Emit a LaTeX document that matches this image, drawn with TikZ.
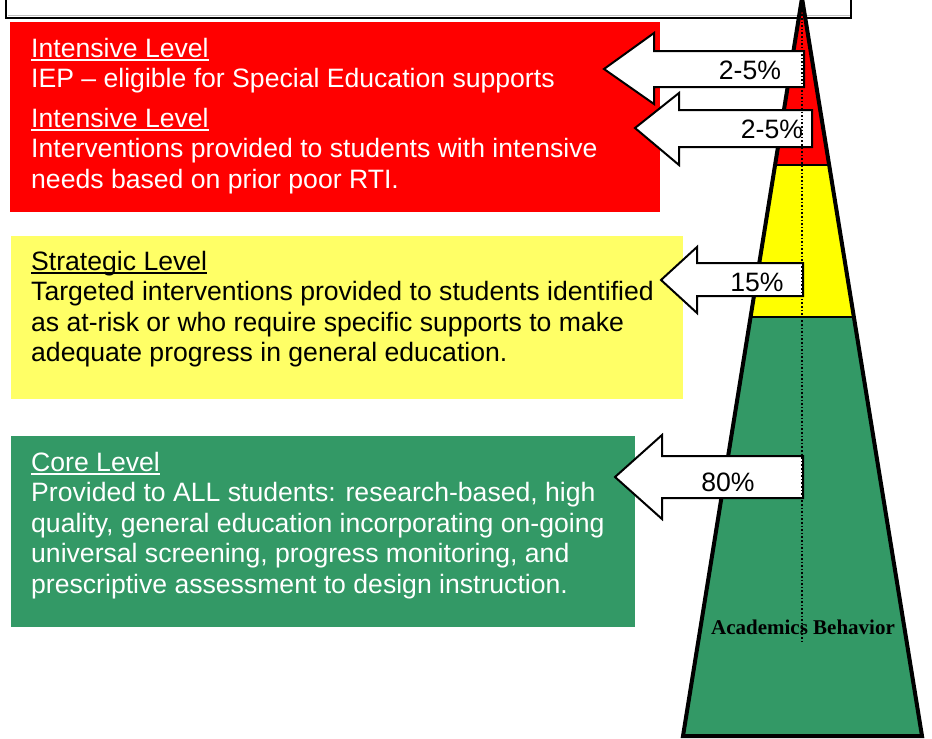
\documentclass[tikz,border=0pt]{standalone}
\usepackage{fontspec}
\setmainfont{Liberation Sans}
\newfontfamily\tnrfont{Liberation Serif}
\definecolor{tierred}{HTML}{FF0000}
\definecolor{tieryellowbox}{HTML}{FFFF66}
\definecolor{tieryellow}{HTML}{FFFF00}
\definecolor{tiergreen}{HTML}{339966}
\newcommand\ulc[1]{\setbox0\hbox{#1}\rlap{\rule[-3.6pt]{\wd0}{1.8pt}}\box0}
\newcommand\textlines[1]{\vtop{\halign{##\hfil\cr#1\crcr}}}
\begin{document}
\begin{tikzpicture}[x=1pt,y=-1pt,
  bodytext/.style={anchor=base west,inner sep=0pt,
    font=\fontsize{26.6}{30.5}\selectfont},
  arrowbox/.style={draw=black,fill=white,line width=2pt,line join=miter},
  pct/.style={inner sep=0pt,font=\fontsize{26.6}{30}\selectfont,text=black},
  tierline/.style={draw=black,line width=2.5pt}]
\useasboundingbox (0,0) rectangle (932,739);
\clip (0,0) rectangle (932,739);
\fill[white] (0,0) rectangle (932,739);
% top box (cut off)
\draw[line width=2pt,fill=white] (6,-20) rectangle (851,18);
\draw[black!25,line width=1.5pt] (8,15.3) -- (849.5,15.3);
% level boxes
\fill[tierred] (10,22) rectangle (660,212);
\fill[tieryellowbox] (11,236) rectangle (683,399);
\fill[tiergreen] (11,436) rectangle (635,627);
% texts
\node[bodytext,text=white] (t1) at (31,57) {\textlines{\ulc{Intensive Level}\cr IEP -- eligible for Special Education supports}};
\node[bodytext,text=white] (t2) at (31,127) {\textlines{\ulc{Intensive Level}\cr Interventions provided to students with intensive\cr needs based on prior poor RTI.}};
\node[bodytext,text=black] (t3) at (31,270) {\textlines{\ulc{Strategic Level}\cr Targeted interventions provided to students identified\cr as at-risk or who require specific supports to make\cr adequate progress in general education.}};
\node[bodytext,text=white] (t4) at (31,471) {\textlines{\ulc{Core Level}\cr Provided to ALL students: research-based, high\cr quality, general education incorporating on-going\cr universal screening, progress monitoring, and\cr prescriptive assessment to design instruction.}};
% pyramid
\coordinate (apex) at (802,-2);
\coordinate (bl) at (683,736);
\coordinate (br) at (922,736);
\coordinate (ryl) at (775.1,165);
\coordinate (ryr) at (829.2,165);
\coordinate (ygl) at (750.6,317);
\coordinate (ygr) at (853.9,317);
\fill[tierred] (apex) -- (ryr) -- (ryl) -- cycle;
\fill[tieryellow] (ryl) -- (ryr) -- (ygr) -- (ygl) -- cycle;
\fill[tiergreen] (ygl) -- (ygr) -- (br) -- (bl) -- cycle;
\draw[tierline] (ryl) -- (ryr);
\draw[tierline] (ygl) -- (ygr);
\draw[line width=4pt,line join=miter,miter limit=30] (apex) -- (br) -- (bl) -- cycle;
% arrows
\draw[arrowbox] (604,69) -- (654,33) -- (654,51) -- (804,51) -- (804,87) -- (654,87) -- (654,104) -- cycle;
\draw[arrowbox] (635,128) -- (679,93) -- (679,110) -- (812,110) -- (812,147) -- (679,147) -- (679,165) -- cycle;
\draw[arrowbox] (661,280) -- (697,247) -- (697,263) -- (803,263) -- (803,296) -- (697,296) -- (697,313) -- cycle;
\draw[arrowbox] (615,477) -- (662,435) -- (662,456) -- (803,456) -- (803,498) -- (662,498) -- (662,519) -- cycle;
\node[pct] (p1) at (750,70) {2-5\%};
\node[pct] (p2) at (772,129) {2-5\%};
\node[pct] (p3) at (757,282) {15\%};
\node[pct] (p4) at (728,482) {80\%};
% divider
\draw[line width=1.6pt,dash pattern=on 1.6pt off 2pt] (802,0) -- (802,643);
\node[anchor=base,inner sep=0pt,font=\tnrfont\bfseries\fontsize{21}{24}\selectfont] (ab) at (803,634) {Academics Behavior};
\end{tikzpicture}
\end{document}
